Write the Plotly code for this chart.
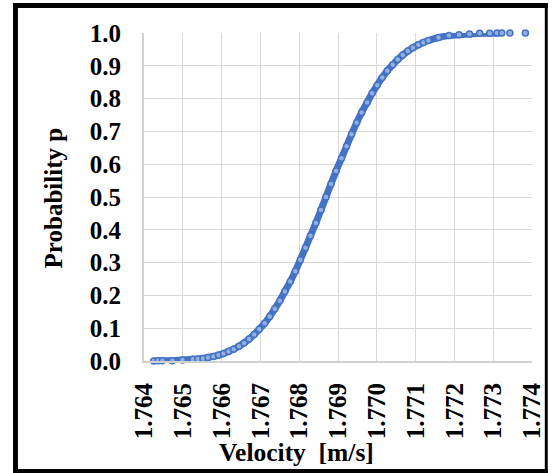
import plotly.graph_objects as go

velocity = [1.76425, 1.76436, 1.76447, 1.76473, 1.76499, 1.76526, 1.76539, 1.76552,
            1.76565, 1.76579, 1.76592, 1.76605, 1.76618, 1.76631, 1.76645, 1.76658,
            1.76671, 1.76684, 1.76697, 1.76711, 1.76724, 1.76737, 1.76750, 1.76763,
            1.76777, 1.76790, 1.76803, 1.76816, 1.76829, 1.76843, 1.76856, 1.76869,
            1.76882, 1.76895, 1.76909, 1.76922, 1.76935, 1.76948, 1.76961, 1.76975,
            1.76988, 1.77001, 1.77014, 1.77027, 1.77041, 1.77054, 1.77067, 1.77080,
            1.77093, 1.77107, 1.77120, 1.77133, 1.77159, 1.77186, 1.77212, 1.77239,
            1.77265, 1.77291, 1.77310, 1.77322]
probability = [0.000, 0.001, 0.001, 0.001, 0.003, 0.005, 0.006, 0.008,
               0.011, 0.014, 0.018, 0.023, 0.029, 0.036, 0.045, 0.055,
               0.067, 0.081, 0.097, 0.115, 0.136, 0.159, 0.184, 0.212,
               0.242, 0.274, 0.309, 0.345, 0.382, 0.421, 0.460, 0.500,
               0.540, 0.579, 0.618, 0.655, 0.691, 0.726, 0.758, 0.788,
               0.816, 0.841, 0.864, 0.885, 0.903, 0.919, 0.933, 0.945,
               0.955, 0.964, 0.971, 0.977, 0.986, 0.992, 0.995, 0.997,
               0.999, 0.999, 1.000, 1.000]
tail_velocity = [1.77343, 1.77383]
tail_probability = [1.000, 1.000]

x_ticks = [1.764, 1.765, 1.766, 1.767, 1.768, 1.769, 1.770, 1.771, 1.772, 1.773, 1.774]
y_ticks = [0.0, 0.1, 0.2, 0.3, 0.4, 0.5, 0.6, 0.7, 0.8, 0.9, 1.0]

W, H = 557, 473
L, R, T, B = 144, 19, 33, 112
pw, ph = W - L - R, H - T - B

def px(x):
    return (x - L) / pw

def py(y):
    return (H - B - y) / ph

FONT = "Liberation Serif, Times New Roman, serif"
BLUE = "#4472C4"

fig = go.Figure()
fig.add_trace(go.Scatter(
    x=velocity, y=probability, mode="lines",
    line=dict(color=BLUE, width=7, shape="spline"),
    hoverinfo="skip", showlegend=False, cliponaxis=False))
fig.add_trace(go.Scatter(
    x=velocity + tail_velocity, y=probability + tail_probability, mode="markers",
    marker=dict(size=6, color="#93afe0", line=dict(color=BLUE, width=1.5)),
    showlegend=False, cliponaxis=False))

fig.update_xaxes(
    range=[1.764, 1.774], tickvals=x_ticks, ticktext=[f"{v:.3f}" for v in x_ticks],
    tickangle=-90, showgrid=True, gridcolor="#d9d9d9", gridwidth=1,
    showline=True, linecolor="#d0d0d0", linewidth=2, zeroline=False,
    ticks="", ticklabelstandoff=10,
    tickfont=dict(family=FONT, size=25, color="black", weight="bold"))
fig.update_yaxes(
    range=[0, 1.0], tickvals=y_ticks, ticktext=[f"{v:.1f}" for v in y_ticks],
    showgrid=True, gridcolor="#d9d9d9", gridwidth=1,
    showline=True, linecolor="#d0d0d0", linewidth=2, zeroline=False,
    ticks="", ticklabelstandoff=16,
    tickfont=dict(family=FONT, size=25, color="black", weight="bold"))

annotations = [
    dict(text="Probability p", x=px(52), y=py(198), xref="paper", yref="paper",
         textangle=-90, showarrow=False, xanchor="center", yanchor="middle",
         font=dict(family=FONT, size=25, color="black", weight="bold")),
    dict(text="Velocity  [m/s]", x=px(299), y=py(452), xref="paper", yref="paper",
         showarrow=False, xanchor="center", yanchor="middle",
         font=dict(family=FONT, size=25.5, color="black", weight="bold")),
]

shapes = []
for (x0, y0, x1, y1) in [(11, 3, 16, 473), (11, 3, 554, 8), (551, 3, 554, 473), (11, 469, 554, 473)]:
    shapes.append(dict(type="rect", xref="paper", yref="paper",
                       x0=px(x0), x1=px(x1), y0=py(y1), y1=py(y0),
                       fillcolor="black", line=dict(width=0), layer="above"))

fig.update_layout(
    width=W, height=H, margin=dict(l=L, r=R, t=T, b=B, pad=0),
    paper_bgcolor="white", plot_bgcolor="white",
    annotations=annotations, shapes=shapes, showlegend=False)

fig.write_html("out.html", config={"displayModeBar": False},
               post_script="document.body.style.margin='0';document.body.style.overflow='hidden';")
